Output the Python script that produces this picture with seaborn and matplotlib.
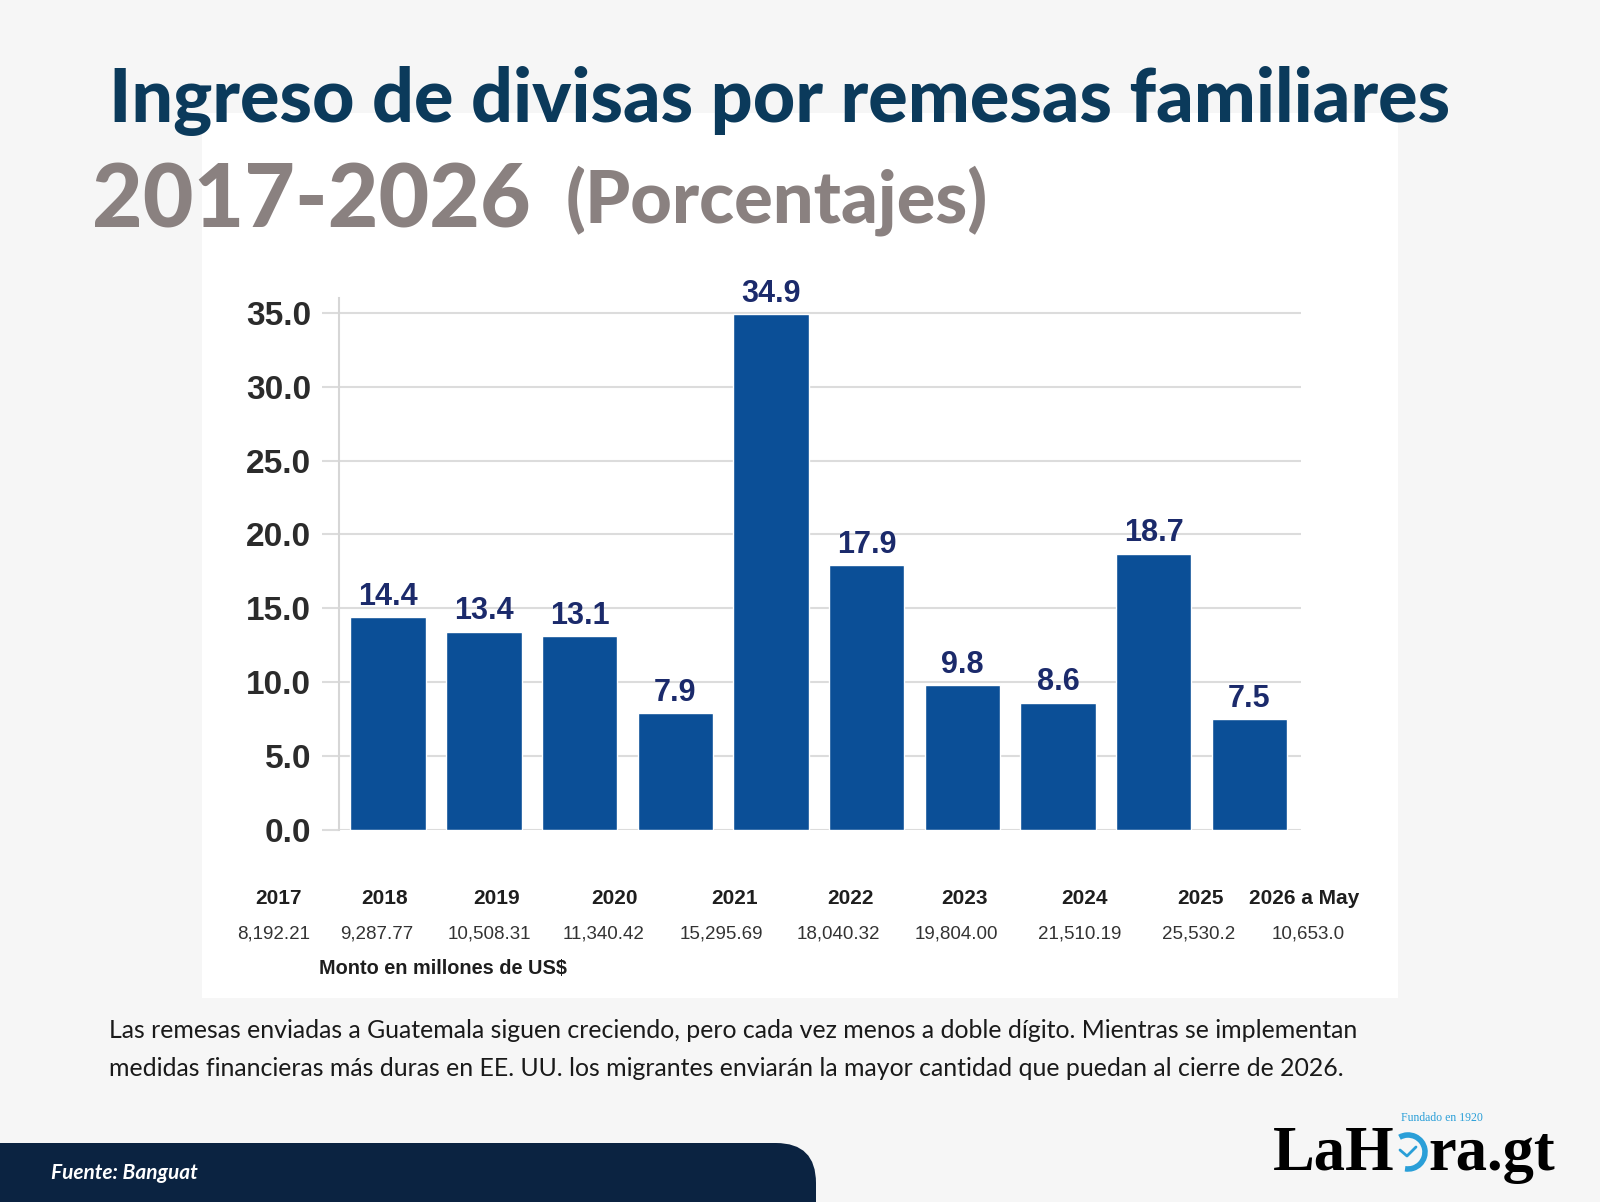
import matplotlib
matplotlib.use("Agg")
import matplotlib.pyplot as plt
import seaborn as sns
from matplotlib.patches import Rectangle, FancyBboxPatch, Arc

# data
years = ["2017", "2018", "2019", "2020", "2021", "2022", "2023", "2024", "2025", "2026 a May"]
growth_pct = [14.4, 13.4, 13.1, 7.9, 34.9, 17.9, 9.8, 8.6, 18.7, 7.5]
amounts = ["8,192.21", "9,287.77", "10,508.31", "11,340.42", "15,295.69",
           "18,040.32", "19,804.00", "21,510.19", "25,530.2", "10,653.0"]
y_ticks = [0, 5, 10, 15, 20, 25, 30, 35]

title = "Ingreso de divisas por remesas familiares"
period = "2017-2026"
unit = "(Porcentajes)"
caption = ["Las remesas enviadas a Guatemala siguen creciendo, pero cada vez menos a doble dígito. Mientras se implementan",
           "medidas financieras más duras en EE. UU. los migrantes enviarán la mayor cantidad que puedan al cierre de 2026."]

# layout (pixel positions of the label rows under the chart)
year_x = [278, 385, 497, 614, 735, 850, 965, 1084, 1201, 1304]
amount_x = [274, 377, 489, 604, 721, 838, 956, 1080, 1199, 1308]

BG = "#f6f6f6"
BAR = "#0b4f97"
NAVY = "#1b2a6b"
TITLE = "#0b3a5b"
GRAYTXT = "#8a8180"
SANS = "Liberation Sans"
SERIF = "Liberation Serif"

sns.set_theme(style="white")
plt.rcParams["font.family"] = ["Lato", "DejaVu Sans"]

W, H = 1600, 1202
fig = plt.figure(figsize=(W / 100, H / 100), dpi=100, facecolor=BG)

# background canvas in pixel units
bg = fig.add_axes([0, 0, 1, 1], zorder=0)
bg.set_xlim(0, W)
bg.set_ylim(H, 0)
bg.axis("off")
bg.add_patch(Rectangle((202, 113), 1196, 885, color="white", lw=0))
bg.add_patch(FancyBboxPatch((-60, 1143), 876, 140,
                            boxstyle="round,pad=0,rounding_size=40",
                            fc="#0b2341", ec="none"))

bg.text(109, 122, title, fontsize=53, fontweight="black", color=TITLE, va="baseline")
bg.text(92, 228, period, fontsize=63, fontweight="black", color=GRAYTXT, va="baseline")
bg.text(566, 222, unit, fontsize=52, fontweight="black", color=GRAYTXT, va="baseline")

for i, line in enumerate(caption):
    bg.text(109, 1031 + 38 * i, line, fontsize=17.9, color="#1a1a1a", va="center")

bg.text(51, 1173, "Fuente: Banguat", fontsize=15, fontstyle="italic",
        fontweight="bold", color="white", va="center")

# logo
bg.text(1273, 1170, "LaH", fontsize=45, fontweight="bold", family=SERIF,
        color="black", va="baseline")
bg.text(1428, 1170, "ra.gt", fontsize=45, fontweight="bold", family=SERIF,
        color="black", va="baseline")
bg.add_patch(Arc((1408, 1152), 34, 34, theta1=-120, theta2=100,
                 color="#2a9fd8", lw=4))
bg.plot([1400, 1407, 1416], [1150, 1156, 1147], color="#2a9fd8", lw=2)
bg.text(1401, 1121, "Fundado en 1920", fontsize=8.5, family=SERIF,
        color="#2a9fd8", va="baseline")

# year and amount rows under the chart
for yr, amt, xy, xa in zip(years, amounts, year_x, amount_x):
    bg.text(xy, 898, yr, fontsize=15, fontweight="bold", family=SANS,
            color="#1e1e1e", ha="center", va="center")
    bg.text(xa, 934, amt, fontsize=13.5, family=SANS,
            color="#333333", ha="center", va="center")
bg.text(319, 968, "Monto en millones de US$", fontsize=14.3, fontweight="bold",
        family=SANS, color="#1e1e1e", va="center")

# chart
ax = fig.add_axes([339 / W, 1 - 830 / H, 962 / W, 532 / H], zorder=2)
ax.set_facecolor("white")
sns.barplot(x=years, y=growth_pct, ax=ax, color=BAR, width=0.79,
            saturation=1, zorder=3)
ax.bar_label(ax.containers[0], fmt="%.1f", padding=4, fontsize=22,
             fontweight="bold", family=SANS, color=NAVY)

ax.set_xlim(-0.515, 9.54)
ax.set_ylim(0, 36)
ax.set_yticks(y_ticks)
ax.set_yticklabels([f"{v:.1f}" for v in y_ticks], fontsize=24,
                   fontweight="bold", family=SANS, color="#2b2b2b")
ax.set_xticks([])
ax.set_xlabel("")
ax.set_ylabel("")
ax.grid(axis="y", color="#dcdcdc", lw=1.5, zorder=0)
ax.tick_params(axis="y", length=12, width=1.5, color="#dcdcdc", pad=8, left=True)
for s in ["top", "right", "bottom"]:
    ax.spines[s].set_visible(False)
ax.spines["left"].set_color("#d6d6d6")
ax.spines["left"].set_linewidth(1.5)

fig.savefig("out.png", dpi=100, facecolor=BG)
